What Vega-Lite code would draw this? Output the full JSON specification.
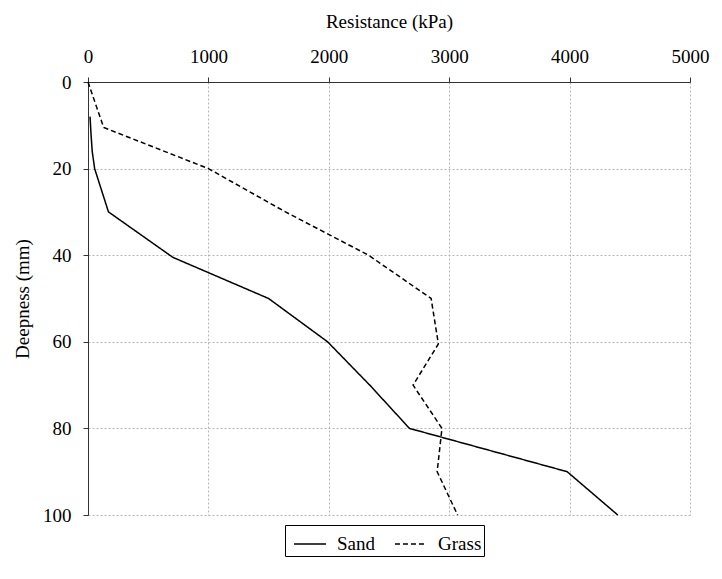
{
  "$schema": "https://vega.github.io/schema/vega-lite/v6.json",
  "width": 602,
  "height": 433,
  "autosize": "none",
  "padding": {"left": 88, "top": 82, "right": 32, "bottom": 64},
  "background": "white",
  "config": {
    "font": "Liberation Serif",
    "view": {"stroke": null},
    "axis": {
      "labelFont": "Liberation Serif",
      "titleFont": "Liberation Serif",
      "labelFontSize": 19,
      "titleFontSize": 19,
      "titleFontWeight": "normal",
      "labelColor": "black",
      "titleColor": "black",
      "domainColor": "#333",
      "tickColor": "#333",
      "gridColor": "#b5b5b5",
      "gridDash": [2, 2],
      "gridWidth": 1
    }
  },
  "data": {
    "values": [
      {"soil": "Sand", "depth": 8, "resistance": 17},
      {"soil": "Sand", "depth": 12, "resistance": 25},
      {"soil": "Sand", "depth": 16, "resistance": 35},
      {"soil": "Sand", "depth": 20, "resistance": 55},
      {"soil": "Sand", "depth": 30, "resistance": 170},
      {"soil": "Sand", "depth": 40.5, "resistance": 705},
      {"soil": "Sand", "depth": 50, "resistance": 1500},
      {"soil": "Sand", "depth": 60, "resistance": 1990},
      {"soil": "Sand", "depth": 70, "resistance": 2340},
      {"soil": "Sand", "depth": 80, "resistance": 2670},
      {"soil": "Sand", "depth": 90, "resistance": 3980},
      {"soil": "Sand", "depth": 100, "resistance": 4400},
      {"soil": "Grass", "depth": 0, "resistance": 0},
      {"soil": "Grass", "depth": 10.5, "resistance": 130},
      {"soil": "Grass", "depth": 20, "resistance": 1000},
      {"soil": "Grass", "depth": 30, "resistance": 1640},
      {"soil": "Grass", "depth": 40, "resistance": 2330},
      {"soil": "Grass", "depth": 50, "resistance": 2850},
      {"soil": "Grass", "depth": 60.5, "resistance": 2910},
      {"soil": "Grass", "depth": 70, "resistance": 2700},
      {"soil": "Grass", "depth": 80, "resistance": 2940},
      {"soil": "Grass", "depth": 90, "resistance": 2900},
      {"soil": "Grass", "depth": 100, "resistance": 3070}
    ]
  },
  "mark": {"type": "line", "color": "black", "strokeWidth": 1.5},
  "encoding": {
    "x": {
      "field": "resistance",
      "type": "quantitative",
      "scale": {"domain": [0, 5000], "nice": false},
      "axis": {
        "orient": "top",
        "title": "Resistance (kPa)",
        "format": "d",
        "values": [0, 1000, 2000, 3000, 4000, 5000],
        "tickSize": 5,
        "labelPadding": 11,
        "titlePadding": 16,
        "labelFlush": false
      }
    },
    "y": {
      "field": "depth",
      "type": "quantitative",
      "scale": {"domain": [0, 100], "reverse": true, "nice": false},
      "axis": {
        "title": "Deepness (mm)",
        "format": "d",
        "values": [0, 20, 40, 60, 80, 100],
        "tickSize": 5,
        "labelPadding": 12,
        "titlePadding": 10,
        "labelFlush": false
      }
    },
    "order": {"field": "depth", "type": "quantitative"},
    "strokeDash": {
      "field": "soil",
      "type": "nominal",
      "scale": {"domain": ["Sand", "Grass"], "range": [[1, 0], [5, 3]]},
      "legend": {
        "title": null,
        "orient": "none",
        "direction": "horizontal",
        "legendX": 197,
        "legendY": 443,
        "strokeColor": "black",
        "padding": 2,
        "symbolOffset": 6,
        "symbolType": "stroke",
        "symbolStrokeColor": "black",
        "symbolStrokeWidth": 1.5,
        "symbolSize": 1024,
        "labelFont": "Liberation Serif",
        "labelFontSize": 19,
        "labelColor": "black",
        "columnPadding": 13,
        "labelOffset": 10
      }
    }
  }
}
